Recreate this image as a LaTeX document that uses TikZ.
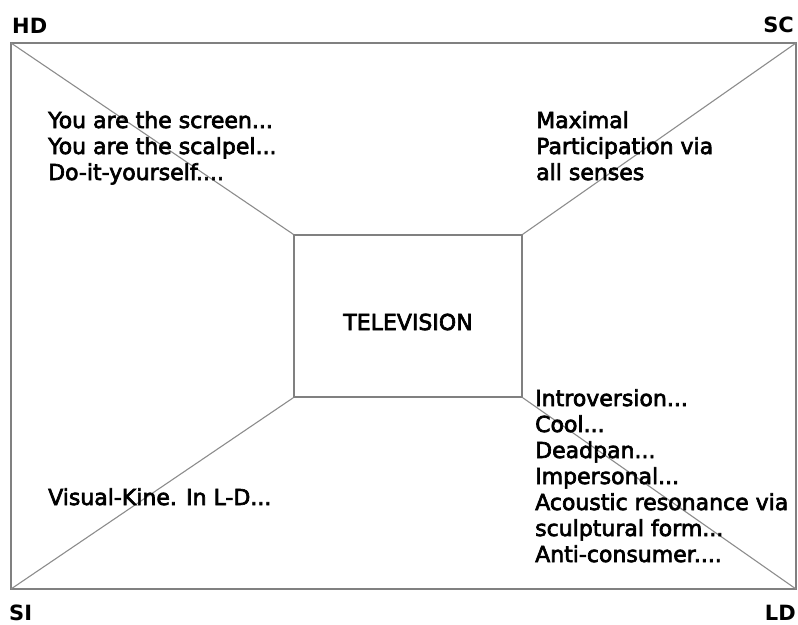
\documentclass[tikz,border=0pt]{standalone}
\usepackage{fontspec}
\setmainfont{DejaVu Sans}
\newfontfamily\heavyfont[FakeBold=3]{DejaVu Sans}
\usepackage{tikz}
\usetikzlibrary{arrows}

\begin{document}
\begin{tikzpicture}[x=1pt,y=-1pt,
  frame line/.style={draw=black!50,line width=1.6pt},
  spoke line/.style={draw=black!45,line width=1.1pt},
  tv box/.style={draw=black!50,line width=1.4pt,minimum width=228pt,minimum height=162pt,inner sep=0pt},
  body text/.style={font=\heavyfont\fontsize{22}{26}\selectfont,align=left,inner sep=0pt,anchor=base west},
  corner text/.style={font=\fontsize{21}{24}\selectfont\bfseries,inner sep=0pt}]

  \useasboundingbox (0,0) rectangle (798,624);

  % outer frame and its corners
  \coordinate (HD) at (11,43);
  \coordinate (SC) at (796,43);
  \coordinate (LD) at (796,589);
  \coordinate (SI) at (11,589);
  \path[frame line] (HD) -- (SC) -- (LD) -- (SI) -- cycle;

  % the screen in the middle
  \node[tv box] (tv) at (408,316) {};
  \node[font=\heavyfont\fontsize{22}{26}\selectfont,inner sep=0pt] (tvlabel) at ([yshift=-6pt]tv.center) {TELEVISION};

  \path[spoke line]
    (HD) edge (tv.north west)
    (SC) edge (tv.north east)
    (LD) edge (tv.south east)
    (SI) edge (tv.south west);

  % corner labels
  \node[corner text,anchor=base west] (hdlabel) at (12,33) {HD};
  \node[corner text,anchor=base east] (sclabel) at (794,32) {SC};
  \node[corner text,anchor=base west] (silabel) at (9,620) {SI};
  \node[corner text,anchor=base east] (ldlabel) at (796,620) {LD};

  % the four quadrant texts (base = last line)
  \node[body text] (hdtext) at (48,180) {You are the screen...\\You are the scalpel...\\Do-it-yourself....};
  \node[body text] (sctext) at (536,180) {Maximal\\Participation via\\all senses};
  \node[body text] (sitext) at (48,505) {Visual-Kine. In L-D...};
  \node[body text] (ldtext) at (535,562) {Introversion...\\Cool...\\Deadpan...\\Impersonal...\\Acoustic resonance via\\sculptural form...\\Anti-consumer....};
\end{tikzpicture}
\end{document}
